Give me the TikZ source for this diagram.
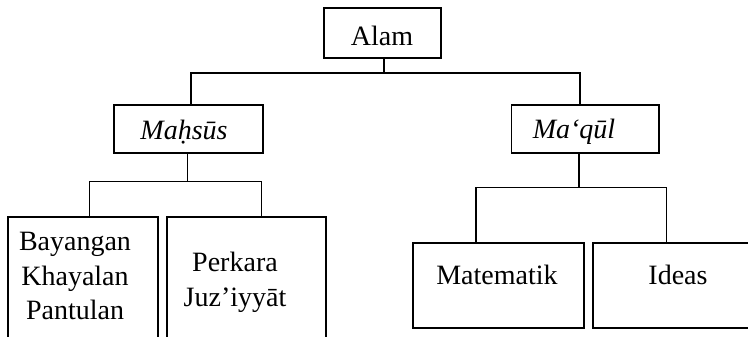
\documentclass[tikz,border=0pt]{standalone}
\usepackage{fontspec}
\setmainfont{Liberation Serif}
\begin{document}
\begin{tikzpicture}[x=1pt,y=-1pt,
  box/.style n args={2}{draw=black, line width=1.8pt, minimum width=#1pt, minimum height=#2pt, inner sep=0pt, anchor=north west},
  lbl/.style={font=\fontsize{28}{35}\selectfont, inner sep=0pt, anchor=base},
  conn/.style={draw=black, line width=1.4pt}]
\useasboundingbox (0,0) rectangle (748,337);
% boxes
\node[box={117.3}{50}] (alam) at (322.7,7.3) {};
\node[box={148.4}{47.7}] (mahsus) at (113.3,104) {};
\node[box={147.5}{47.7}] (maqul) at (510.5,104) {};
\node[box={150}{140}] (bayangan) at (6.7,216) {};
\node[box={159.3}{140}] (perkara) at (165.7,216) {};
\node[box={171}{85}] (matematik) at (412.3,242) {};
\node[box={170}{85}] (ideas) at (591.7,242) {};
% labels
\node[lbl] (talam) at (382,46) {Alam};
\node[lbl] (tmahsus) at (184,139.3) {\itshape Maḥsūs};
\node[lbl] (tmaqul) at (574,138.5) {\itshape Ma‘qūl};
\node[lbl] (tbayangan) at (75,250) {\begin{tabular}[t]{@{}c@{}}Bayangan\\Khayalan\\Pantulan\end{tabular}};
\node[lbl] (tperkara) at (235,271.7) {\begin{tabular}[t]{@{}c@{}}Perkara\\Juz’iyyāt\end{tabular}};
\node[lbl] (tmatematik) at (497,284.3) {Matematik};
\node[lbl] (tideas) at (678,284.3) {Ideas};
% junctions
\coordinate (bus1) at (0,73);
\coordinate (bus2) at (0,181.7);
\coordinate (bus3) at (0,187.7);
% connectors
\draw[conn] ([xshift=1.7]alam.south) -- ([xshift=1.7]alam.south |- bus1);
\draw[conn] ([xshift=2.5]mahsus.north) -- ([xshift=2.5]mahsus.north |- bus1) -- ([xshift=-5.25]maqul.north |- bus1) -- ([xshift=-5.25]maqul.north);
\draw[conn] ([xshift=-1]mahsus.south) -- ([xshift=-1]mahsus.south |- bus2);
\draw[conn] ([xshift=6.6]bayangan.north) -- ([xshift=6.6]bayangan.north |- bus2) -- ([xshift=15.35]perkara.north |- bus2) -- ([xshift=15.35]perkara.north);
\draw[conn] ([xshift=-6.25]maqul.south) -- ([xshift=-6.25]maqul.south |- bus3);
\draw[conn] ([xshift=-22.8]matematik.north) -- ([xshift=-22.8]matematik.north |- bus3) -- ([xshift=-11]ideas.north |- bus3) -- ([xshift=-11]ideas.north);
\end{tikzpicture}
\end{document}
